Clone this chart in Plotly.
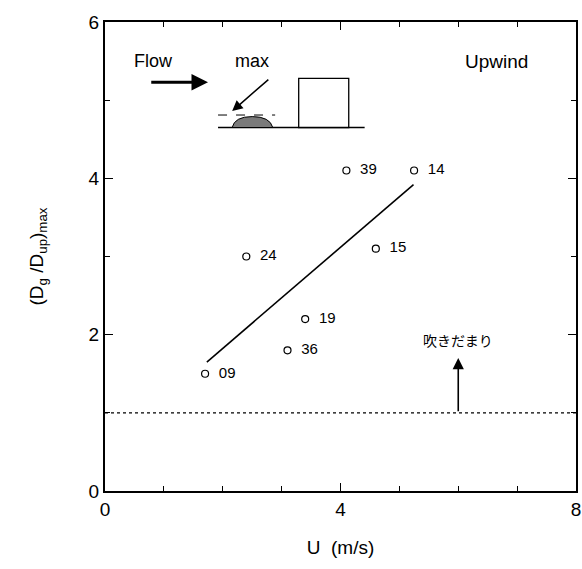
import plotly.graph_objects as go

# Measured cases: wind speed U (m/s) vs peak drift depth ratio
run_ids = ["09", "24", "39", "14", "15", "19", "36"]
wind_speed = [1.7, 2.4, 4.1, 5.25, 4.6, 3.4, 3.1]
depth_ratio = [1.5, 3.0, 4.1, 4.1, 3.1, 2.2, 1.8]

# Fitted trend line end points
fit_x = [1.73, 5.24]
fit_y = [1.65, 3.92]

FONT = "Liberation Sans, Arial, sans-serif"

fig = go.Figure()

fig.add_trace(go.Scatter(
    x=fit_x, y=fit_y, mode="lines",
    line=dict(color="black", width=1.6), hoverinfo="skip", showlegend=False))

fig.add_trace(go.Scatter(
    x=wind_speed, y=depth_ratio, mode="markers+text",
    text=["  " + r for r in run_ids], textposition="middle right",
    textfont=dict(family=FONT, size=15, color="black"),
    marker=dict(symbol="circle-open", size=7, color="black", line=dict(width=1.2)),
    showlegend=False))

# reference level: ratio = 1
fig.add_shape(type="line", x0=0, x1=8, y0=1, y1=1,
              line=dict(color="black", width=1.3, dash="dot"))

# arrow pointing up from the reference level
fig.add_annotation(x=6.0, y=1.7, ax=6.0, ay=1.0, xref="x", yref="y",
                   axref="x", ayref="y", showarrow=True, arrowhead=2,
                   arrowsize=1.4, arrowwidth=1.6, arrowcolor="black", text="")
fig.add_annotation(x=6.0, y=1.78, text="吹きだまり", showarrow=False,
                   font=dict(family="Noto Sans CJK JP", size=14, color="black"),
                   xanchor="center", yanchor="bottom")

# inset sketch: ground, building, drift mound
fig.add_shape(type="line", x0=1.92, x1=4.41, y0=4.65, y1=4.65,
              line=dict(color="black", width=1.5))
fig.add_shape(type="rect", x0=3.29, x1=4.14, y0=4.65, y1=5.28,
              line=dict(color="black", width=1.3), fillcolor="white")
fig.add_shape(type="path",
              path="M 2.16 4.65 Q 2.2 4.79 2.5 4.79 Q 2.8 4.79 2.85 4.65 Z",
              line=dict(color="black", width=1), fillcolor="#7a7a7a")
fig.add_shape(type="line", x0=1.92, x1=2.89, y0=4.81, y1=4.81,
              line=dict(color="black", width=1, dash="dash"))

# Flow arrow and max pointer
fig.add_annotation(x=1.75, y=5.23, ax=0.76, ay=5.23, xref="x", yref="y",
                   axref="x", ayref="y", showarrow=True, arrowhead=2,
                   arrowsize=1.1, arrowwidth=3, arrowcolor="black", text="")
fig.add_annotation(x=2.16, y=4.86, ax=2.8, ay=5.28, xref="x", yref="y",
                   axref="x", ayref="y", showarrow=True, arrowhead=2,
                   arrowsize=1.4, arrowwidth=1.5, arrowcolor="black", text="")
fig.add_annotation(x=0.82, y=5.5, text="Flow", showarrow=False,
                   font=dict(family=FONT, size=18, color="black"),
                   xanchor="center", yanchor="middle")
fig.add_annotation(x=2.5, y=5.5, text="max", showarrow=False,
                   font=dict(family=FONT, size=18, color="black"),
                   xanchor="center", yanchor="middle")
fig.add_annotation(x=6.65, y=5.5, text="Upwind", showarrow=False,
                   font=dict(family=FONT, size=19, color="black"),
                   xanchor="center", yanchor="middle")

axis_common = dict(
    showgrid=False, zeroline=False, showline=True, linecolor="black",
    linewidth=2, mirror="ticks", ticks="inside", ticklen=8, tickwidth=1.2,
    tickcolor="black", tickfont=dict(family=FONT, size=19, color="black"),
    automargin=False, ticklabeloverflow="allow",
)

fig.update_xaxes(range=[0, 8], tickvals=[0, 4, 8],
                 minor=dict(dtick=1, ticks="inside", ticklen=5, tickcolor="black"),
                 title=dict(text="U  (m/s)", font=dict(family=FONT, size=19, color="black"),
                            standoff=22),
                 **axis_common)
fig.update_yaxes(range=[0, 6], tickvals=[0, 2, 4, 6],
                 minor=dict(dtick=1, ticks="inside", ticklen=5, tickcolor="black"),
                 title=dict(text="(D<sub>g</sub> /D<sub>up</sub>)<sub>max</sub>",
                            font=dict(family=FONT, size=19, color="black"), standoff=40),
                 **axis_common)

fig.update_layout(width=582, height=569,
                  margin=dict(l=105, r=6, t=22, b=78),
                  plot_bgcolor="white", paper_bgcolor="white")

fig.write_html("out.html")
